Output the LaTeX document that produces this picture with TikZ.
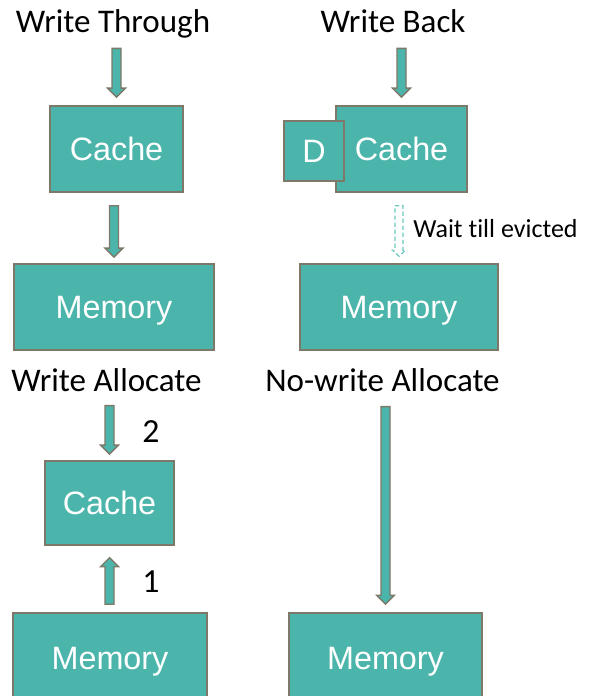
\documentclass[tikz,border=0pt]{standalone}
\usepackage{fontspec}
\setmainfont{Carlito}[Ligatures=CommonOff]
\newfontfamily\boxfont{Liberation Sans}
\usetikzlibrary{calc,positioning}

\definecolor{boxteal}{HTML}{4BB5AB}
\definecolor{boxedge}{HTML}{7D7868}
\definecolor{waitteal}{HTML}{6CC8BF}

\begin{document}
\begin{tikzpicture}[x=0.025cm,y=-0.025cm]

  \tikzstyle{T}=[font=\fontsize{23.5}{28}\selectfont, inner sep=0pt,
    text depth=0pt, anchor=base];
  \tikzstyle{B}=[draw=boxedge, line width=1.1pt, fill=boxteal, text=white,
    font=\boxfont\fontsize{23}{27}\selectfont, inner sep=0pt, text depth=0pt,
    minimum height=2.15cm];
  \tikzstyle{blk}=[draw=boxedge, line width=1pt, fill=boxteal,
    to path={let \p1=(\tikztostart), \p2=(\tikztotarget),
      \n1={ifthenelse(\y2>\y1,-1,1)} in
      (\x2-3.2pt,\y1) -- (\x2+3.2pt,\y1) -- (\x2+3.2pt,{\y2+(\n1)*6.4pt})
      -- (\x2+6.4pt,{\y2+(\n1)*6.4pt}) -- (\x2,\y2)
      -- (\x2-6.4pt,{\y2+(\n1)*6.4pt}) -- (\x2-3.2pt,{\y2+(\n1)*6.4pt}) -- cycle}];
  \tikzstyle{wblk}=[draw=waitteal, line width=0.9pt, dash pattern=on 3pt off 2pt,
    to path={let \p1=(\tikztostart), \p2=(\tikztotarget) in
      (\x2-2.9pt,\y1) -- (\x2+2.9pt,\y1) -- (\x2+2.9pt,\y2+4.3pt)
      -- (\x2+4.6pt,\y2+4.3pt) -- (\x2,\y2)
      -- (\x2-4.6pt,\y2+4.3pt) -- (\x2-2.9pt,\y2+4.3pt) -- cycle}];

  \useasboundingbox (0,0) rectangle (597,696);

  %% write hit policies

  \node [T] (wt) at (113,33) {Write Through};
  \node [T] (wb) at (393,33) {Write Back};

  \node [B,minimum width=3.325cm] (c1) at (116.5,149) {Cache};
  \node [B,minimum width=5cm] (m1) at (114,307) {Memory};

  \node [B,minimum width=3.275cm] (c2) at (401.5,149) {Cache};
  \node [B,minimum width=1.5cm,minimum height=1.5cm] (d) at (314,151) {D};
  \node [B,minimum width=4.95cm] (m2) at (399,307) {Memory};

  \draw [blk] ([yshift=-10.7pt]wt.south) to ([yshift=5.7pt]c1.north);
  \draw [blk] ([yshift=-9.2pt]c1.south) to ([yshift=4.3pt]m1.north);
  \draw [blk] ([yshift=-10.7pt]wb.south) to ([yshift=5.7pt]c2.north);
  \draw [wblk] ([yshift=-9.2pt]c2.south) to ([yshift=5pt]m2.north);

  \node [anchor=base west,font=\fontsize{18.5}{22}\selectfont,inner sep=0pt] (wait) at (413,237) {Wait till evicted};

  %% write miss policies

  \node [T] (wa) at (106.5,391) {Write Allocate};
  \node [T] (nwa) at (382.5,391) {No-write Allocate};

  \node [B,minimum width=3.225cm,minimum height=2.1cm] (c3) at (109.5,503) {Cache};
  \node [B,minimum width=4.85cm,minimum height=2.25cm] (m3) at (110,658) {Memory};
  \node [B,minimum width=4.825cm,minimum height=2.25cm] (m4) at (385.5,658) {Memory};

  \draw [blk] ([yshift=-10.2pt]wa.south) to ([yshift=4.3pt]c3.north);
  \draw [blk] ([yshift=5.7pt]m3.north) to ([yshift=-8.5pt]c3.south);
  \draw [blk] ([yshift=-10.9pt]nwa.south) to ([yshift=5.7pt]m4.north);

  \node [font=\fontsize{24}{28}\selectfont,inner sep=0pt] (n2) at (151,432) {2};
  \node [font=\fontsize{24}{28}\selectfont,inner sep=0pt] (n1) at (151,582) {1};

\end{tikzpicture}
\end{document}
